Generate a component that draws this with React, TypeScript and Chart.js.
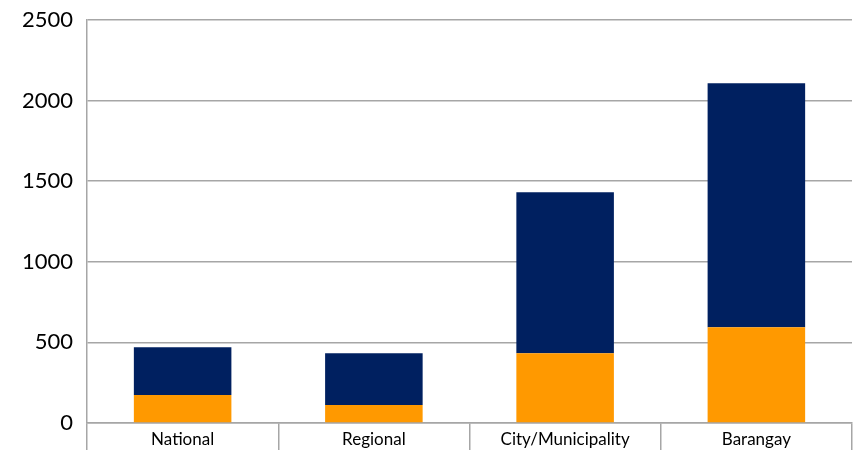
import React, { useEffect, useRef } from "react";
import { Chart, registerables } from "chart.js";

Chart.register(...registerables);

const categories = ["National", "Regional", "City/Municipality", "Barangay"];
const orangeValues = [174, 112, 432, 594];
const navyValues = [296, 320, 999, 1513];
const yTicks = [0, 500, 1000, 1500, 2000, 2500];

const GRID = "#a6a6a6";
const FONT = "Lato, 'Open Sans', sans-serif";

export default function App() {
  const ref = useRef<HTMLCanvasElement>(null);
  useEffect(() => {
    document.body.style.margin = "0";
    const chart = new Chart(ref.current!, {
      type: "bar",
      data: {
        labels: categories,
        datasets: [
          { label: "A", data: orangeValues, backgroundColor: "#FF9900", barPercentage: 0.51, categoryPercentage: 1 },
          { label: "B", data: navyValues, backgroundColor: "#002060", barPercentage: 0.51, categoryPercentage: 1 },
        ],
      },
      options: {
        animation: false,
        responsive: false,
        maintainAspectRatio: false,
        layout: { padding: { top: 20, right: 6, left: 0, bottom: 0 } },
        plugins: { legend: { display: false }, tooltip: { enabled: false } },
        scales: {
          x: {
            stacked: true,
            grid: { offset: true, drawOnChartArea: false, tickLength: 27, color: GRID, lineWidth: 1.5 },
            border: { display: true, color: GRID, width: 1.5 },
            ticks: { color: "#000", font: { family: FONT, size: 17 }, padding: -21 },
            afterFit: (s: any) => { s.height = 27; s.paddingLeft = 0; s.paddingRight = 0; },
          },
          y: {
            stacked: true,
            min: 0,
            max: 2500,
            afterBuildTicks: (s: any) => { s.ticks = yTicks.map((v) => ({ value: v })); },
            grid: { drawTicks: false, color: GRID, lineWidth: 1.5 },
            border: { display: true, color: GRID, width: 1.5 },
            ticks: { color: "#000", font: { family: FONT, size: 22 }, padding: 14, callback: (v: any) => String(v) },
            afterFit: (s: any) => { s.width = 87; s.paddingTop = 0; s.paddingBottom = 0; },
          },
        },
      },
    });
    return () => chart.destroy();
  }, []);
  return (
    <div style={{ position: "fixed", left: 0, top: 0, width: 858, height: 450 }}>
      <canvas ref={ref} width={858} height={450} />
    </div>
  );
}
